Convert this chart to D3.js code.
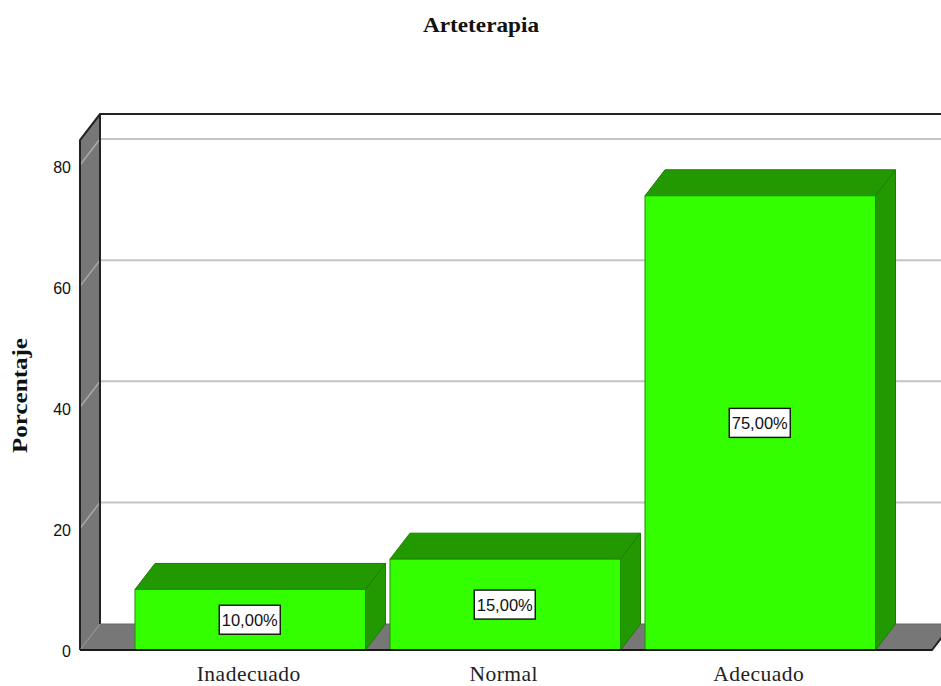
<!DOCTYPE html>
<html><head><meta charset="utf-8">
<script src="https://cdn.jsdelivr.net/npm/d3@7"></script>
<style>html,body{margin:0;padding:0;background:#fff;overflow:hidden}svg{display:block}</style>
</head><body><svg id="c" width="941" height="686"></svg>
<script>
const categories = ["Inadecuado","Normal","Adecuado"];
const values = [10,15,75];
const valueLabels = ["10,00%","15,00%","75,00%"];
const yTicks = [0,20,40,60,80];
const title = "Arteterapia";
const yTitle = "Porcentaje";

(function(){
const svg = d3.select("#c");
const dx=20, dy=-26;
const y = d3.scaleLinear().domain([0,80]).range([650,165.5]);
const x = d3.scaleBand().domain(categories).range([122.75,887.75]).paddingInner(0.096).paddingOuter(0.048);
const left=80, right=932, topY=y(84.2), base=y(0);
const poly=(pts,fill,stroke,sw=1)=>svg.append("polygon").attr("points",pts.map(p=>p.join(",")).join(" ")).attr("fill",fill).attr("stroke",stroke).attr("stroke-width",sw).attr("stroke-linejoin","round");

// back wall
svg.append("rect").attr("x",left+dx).attr("y",topY+dy).attr("width",941-left-dx).attr("height",base-topY).attr("fill","#fff");
// left wall and floor
poly([[left,topY],[left+dx,topY+dy],[left+dx,base+dy],[left,base]],"#777777","none");
poly([[left,base],[left+dx,base+dy],[right+dx,base+dy],[right,base]],"#777777","none");
// gridlines
yTicks.filter(d=>d>0).forEach(d=>{
  const gy=y(d)-0.5;
  svg.append("path").attr("d",`M${left},${gy}L${left+dx},${gy+dy}`).attr("fill","none").attr("stroke","#aaaaaa").attr("stroke-width",1.5);
  svg.append("path").attr("d",`M${left+dx},${gy+dy}H941`).attr("fill","none").attr("stroke","#c4c4c4").attr("stroke-width",2);
});
// frame
svg.append("path").attr("d",`M${left},${base}V${topY}L${left+dx},${topY+dy}H941`).attr("fill","none").attr("stroke","#222").attr("stroke-width",2);
svg.append("path").attr("d",`M${left+dx},${topY+dy}V${base+dy}`).attr("fill","none").attr("stroke","#222").attr("stroke-width",2);
svg.append("path").attr("d",`M${left},${base}H${right}L${right+dx},${base+dy}`).attr("fill","none").attr("stroke","#222").attr("stroke-width",2);
svg.append("path").attr("d",`M${left},${base}L${left+dx},${base+dy}`).attr("fill","none").attr("stroke","#999").attr("stroke-width",1);
svg.append("path").attr("d",`M${left+dx},${base+dy}H941`).attr("fill","none").attr("stroke","#666").attr("stroke-width",1);

// bars
categories.forEach((c,i)=>{
  const x0=x(c), x1=x0+x.bandwidth(), yt=y(values[i]);
  poly([[x0,yt],[x0+dx,yt+dy],[x1+dx,yt+dy],[x1,yt]],"#229900","#1c7d00");
  poly([[x1,yt],[x1+dx,yt+dy],[x1+dx,base+dy],[x1,base]],"#229900","#1c7d00");
  svg.append("rect").attr("x",x0).attr("y",yt).attr("width",x1-x0).attr("height",base-yt).attr("fill","#33ff00").attr("stroke","#1f8f00").attr("stroke-width",1);
});
svg.append("path").attr("d",`M${left},${base}H${right}`).attr("fill","none").attr("stroke","#1a1a1a").attr("stroke-width",2);

// value labels
categories.forEach((c,i)=>{
  const cx=x(c)+x.bandwidth()/2-0.5, cy=(y(values[i])+base)/2;
  svg.append("rect").attr("x",cx-30.5).attr("y",cy-14.5).attr("width",61).attr("height",29).attr("fill","#fff").attr("stroke","#111").attr("stroke-width",1.4);
  svg.append("text").attr("x",cx).attr("y",cy+6).attr("text-anchor","middle").attr("font-family","Liberation Sans").attr("font-size",16).attr("fill","#111").attr("textLength",56).attr("lengthAdjust","spacingAndGlyphs").text(valueLabels[i]);
});

// axis labels
yTicks.forEach(d=>{
  svg.append("text").attr("x",71).attr("y",y(d)+7).attr("text-anchor","end").attr("font-family","Liberation Sans").attr("font-size",16).attr("fill","#111").text(d);
});
categories.forEach(c=>{
  svg.append("text").attr("x",x(c)+x.bandwidth()/2-1.5).attr("y",681).attr("text-anchor","middle").attr("font-family","Liberation Serif").attr("font-size",21.5).attr("letter-spacing",0.5).attr("fill","#222").text(c);
});
svg.append("text").attr("x",481).attr("y",32).attr("text-anchor","middle").attr("font-family","Liberation Serif").attr("font-weight","bold").attr("font-size",21).attr("textLength",116).attr("lengthAdjust","spacingAndGlyphs").attr("fill","#111").text(title);
svg.append("text").attr("transform","translate(27,395.5) rotate(-90)").attr("text-anchor","middle").attr("font-family","Liberation Serif").attr("font-weight","bold").attr("font-size",21).attr("textLength",115).attr("lengthAdjust","spacingAndGlyphs").attr("fill","#111").text(yTitle);
})();
</script></body></html>
